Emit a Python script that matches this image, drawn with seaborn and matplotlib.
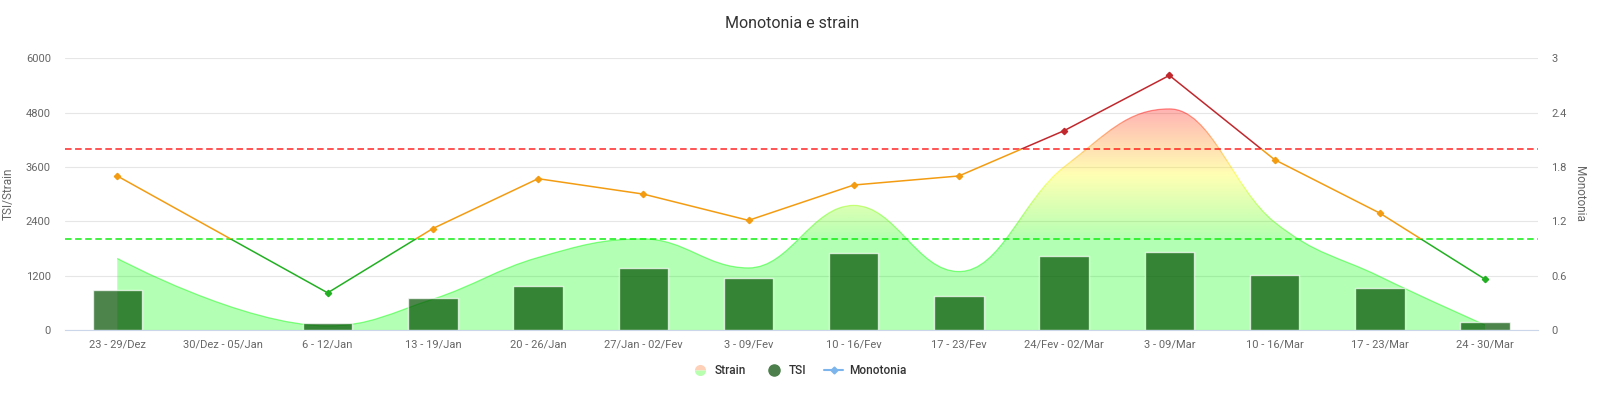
import numpy as np
import pandas as pd
import matplotlib
matplotlib.use("Agg")
import matplotlib.pyplot as plt
from matplotlib.path import Path
from matplotlib.patches import PathPatch, Rectangle
from matplotlib.colors import LinearSegmentedColormap
from matplotlib.lines import Line2D
import seaborn as sns

# ---- data ----
weeks = ["23 - 29/Dez", "30/Dez - 05/Jan", "6 - 12/Jan", "13 - 19/Jan", "20 - 26/Jan",
         "27/Jan - 02/Fev", "3 - 09/Fev", "10 - 16/Fev", "17 - 23/Fev", "24/Fev - 02/Mar",
         "3 - 09/Mar", "10 - 16/Mar", "17 - 23/Mar", "24 - 30/Mar"]
tsi = [880, np.nan, 158, 700, 970, 1376, 1150, 1692, 745, 1624, 1715, 1218, 925, 180]
strain = [1580, np.nan, 90, 680, 1600, 2010, 1370, 2750, 1290, 3600, 4880, 2380, 1180, 110]
monotonia = [1.70, np.nan, 0.41, 1.12, 1.67, 1.50, 1.21, 1.60, 1.70, 2.20, 2.81, 1.88, 1.29, 0.56]

left_ticks = [0, 1200, 2400, 3600, 4800, 6000]
right_ticks = [0, 0.6, 1.2, 1.8, 2.4, 3]
limit_low = 1.0
limit_high = 2.0

df = pd.DataFrame({"week": weeks, "tsi": tsi, "strain": strain, "monotonia": monotonia})
df["pos"] = np.arange(len(df))


def spline_path(xs, ys, smoothing=1.5):
    """Cubic path through the points, same control point rule as a Highcharts areaspline"""
    n = len(xs)
    denom = smoothing + 1
    left = [(xs[i], ys[i]) for i in range(n)]
    right = [(xs[i], ys[i]) for i in range(n)]
    for i in range(1, n - 1):
        lx, ly = xs[i - 1], ys[i - 1]
        px, py = xs[i], ys[i]
        nx, ny = xs[i + 1], ys[i + 1]
        lcx = (smoothing * px + lx) / denom
        lcy = (smoothing * py + ly) / denom
        rcx = (smoothing * px + nx) / denom
        rcy = (smoothing * py + ny) / denom
        if rcx != lcx:
            corr = (rcy - lcy) * (rcx - px) / (rcx - lcx) + py - rcy
            lcy += corr
            rcy += corr
        if lcy > ly and lcy > py:
            lcy = max(ly, py)
            rcy = 2 * py - lcy
        elif lcy < ly and lcy < py:
            lcy = min(ly, py)
            rcy = 2 * py - lcy
        if rcy > py and rcy > ny:
            rcy = max(py, ny)
            lcy = 2 * py - rcy
        elif rcy < py and rcy < ny:
            rcy = min(py, ny)
            lcy = 2 * py - rcy
        left[i] = (lcx, lcy)
        right[i] = (rcx, rcy)
    verts = [(xs[0], ys[0])]
    codes = [Path.MOVETO]
    for i in range(1, n):
        verts += [right[i - 1], left[i], (xs[i], ys[i])]
        codes += [Path.CURVE4] * 3
    return verts, codes


sns.set_style("white")
plt.rcParams["font.family"] = ["Liberation Sans Narrow", "Roboto", "DejaVu Sans"]

fig = plt.figure(figsize=(16, 3.98), dpi=100)
ax = fig.add_axes([0.0404, 0.1709, 0.9206, 0.6829])

# ---- strain area (gradient fill) ----
s = df.dropna(subset=["strain"])
verts, codes = spline_path(s["pos"].to_numpy(float), s["strain"].to_numpy(float))
top = max(s["strain"])
area_path = Path(verts + [(s["pos"].iloc[-1], 0), (s["pos"].iloc[0], 0), verts[0]],
                 codes + [Path.LINETO, Path.LINETO, Path.CLOSEPOLY])
edge_path = Path(verts, codes)

cmap = LinearSegmentedColormap.from_list(
    "strain", [(0.0, "#00ff00"), (0.4, "#00ff00"), (0.7, "#ffff00"), (1.0, "#ff0000")])
grad = cmap(np.linspace(0, 1, 256))[:, None, :]
grad[..., 3] = 0.3
patch = PathPatch(area_path, facecolor="none", edgecolor="none", transform=ax.transData)
ax.add_patch(patch)
img = ax.imshow(grad, origin="lower", extent=(-0.5, 13.5, 0, top), aspect="auto",
                zorder=1, interpolation="bilinear")
img.set_clip_path(patch)

# edge of the area, coloured by height
bands = np.linspace(0, top + 50, 30)
for y0, y1 in zip(bands[:-1], bands[1:]):
    c = cmap(min((y0 + y1) / 2 / top, 1.0))
    e = PathPatch(edge_path, facecolor="none", edgecolor=c, lw=0.9, alpha=0.45,
                  transform=ax.transData, zorder=1.5)
    ax.add_patch(e)
    e.set_clip_path(Rectangle((-1, y0), 16, y1 - y0, transform=ax.transData))

# ---- TSI bars ----
sns.barplot(data=df, x="week", y="tsi", ax=ax, color="#005000", saturation=1,
            width=0.47, edgecolor="white", linewidth=1, alpha=0.7, errorbar=None, zorder=2)

ax.set_xlim(-0.5, 13.5)
ax.set_ylim(0, 6000)
ax.set_yticks(left_ticks)
ax.set_xlabel("")
ax.set_ylabel("TSI/Strain", color="#666666", fontsize=8.5)
ax.yaxis.set_label_coords(-0.034, 0.5)
ax.tick_params(axis="both", length=0, colors="#666666", labelsize=8)
ax.tick_params(axis="y", pad=10)
ax.tick_params(axis="x", pad=7)
ax.yaxis.grid(True, color="#e6e6e6", lw=0.8)
ax.set_axisbelow(True)
for side in ["top", "left", "right"]:
    ax.spines[side].set_visible(False)
ax.spines["bottom"].set_color("#ccd6eb")
ax.spines["bottom"].set_zorder(5)

# ---- Monotonia on the right axis ----
ax2 = ax.twinx()
ax2.set_ylim(0, 3)
ax2.set_yticks(right_ticks)
ax2.set_yticklabels(["0", "0.6", "1.2", "1.8", "2.4", "3"])
ax2.tick_params(axis="y", length=0, colors="#666666", labelsize=8, pad=10)
ax2.set_ylabel("Monotonia", color="#666666", fontsize=8.5, rotation=270, va="center")
ax2.yaxis.set_label_coords(1.0287, 0.5)
for side in ["top", "left", "right", "bottom"]:
    ax2.spines[side].set_visible(False)

ax2.axhline(limit_high, color="#ff0000", lw=1.1, dashes=(4.3, 2.3), alpha=0.85, zorder=3)
ax2.axhline(limit_low, color="#11ee11", lw=1.1, dashes=(4.3, 2.3), zorder=3)

m = df.dropna(subset=["monotonia"])
zones = [(-1, limit_low, "#22b022"), (limit_low, limit_high, "#f39c12"), (limit_high, 5, "#c0282d")]
for lo, hi, col in zones:
    ln, = ax2.plot(m["pos"], m["monotonia"], color=col, lw=1.1, marker="D", ms=3.2,
                   zorder=4)
    ln.set_clip_path(Rectangle((-1, lo), 16, hi - lo, transform=ax2.transData))

# ---- title and legend ----
fig.text(0.495, 0.94, "Monotonia e strain", ha="center", va="center", fontsize=11.5,
         color="#333333")

handles = [
    Line2D([], [], ls="none", marker="o", ms=8, fillstyle="top", markerfacecolor="#ffd0b8",
           markerfacecoloralt="#b8ffb0", markeredgecolor="none"),
    Line2D([], [], ls="none", marker="o", ms=8, color="#4c7f4c"),
    Line2D([], [], color="#7cb5ec", lw=1.5, marker="D", ms=3.5),
]
fig.legend(handles, ["Strain", "TSI", "Monotonia"], loc="center", bbox_to_anchor=(0.499, 0.07),
           ncol=3, frameon=False, prop={"size": 8.5, "weight": "medium"}, labelcolor="#333333",
           handlelength=1.6, handletextpad=0.5, columnspacing=1.5)

fig.savefig("out.png", dpi=100)
